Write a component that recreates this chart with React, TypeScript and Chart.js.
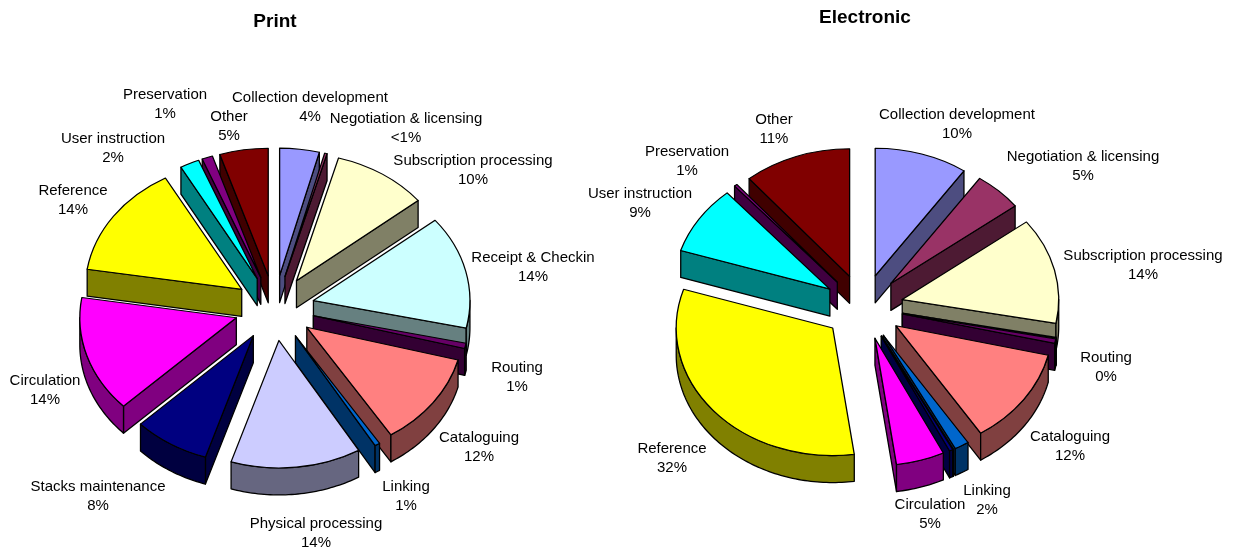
import React, { useEffect, useRef } from "react";
import { Chart, registerables } from "chart.js";

Chart.register(...registerables);

const categories = [
  "Collection development", "Negotiation & licensing", "Subscription processing", "Receipt & Checkin",
  "Routing", "Cataloguing", "Linking", "Physical processing", "Stacks maintenance", "Circulation",
  "Reference", "User instruction", "Preservation", "Other",
];
const sliceColors = [
  "#9999FF", "#993366", "#FFFFCC", "#CCFFFF", "#660066", "#FF8080", "#0066CC",
  "#CCCCFF", "#000080", "#FF00FF", "#FFFF00", "#00FFFF", "#800080", "#800000",
];

const printValues = [4.08, 0.25, 9.83, 14.28, 0.67, 11.83, 0.53, 13.44, 7.86, 14.7, 14.36, 2.0, 1.1, 5.0];
const printPercents = ["4%", "<1%", "10%", "14%", "1%", "12%", "1%", "14%", "8%", "14%", "14%", "2%", "1%", "5%"];
const printLabelAt = [
  [310, 98], [406, 119], [473, 161], [533, 258], [517, 368], [479, 438], [406, 487],
  [316, 524], [98, 487], [45, 381], [73, 191], [113, 139], [165, 95], [229, 117],
];

const electronicValues = [9.6, 5.0, 13.4, 0.15, 0.55, 12.2, 1.5, 0.05, 0.35, 5.0, 32.1, 8.7, 0.3, 11.1];
const electronicPercents = ["10%", "5%", "14%", "", "0%", "12%", "2%", "", "", "5%", "32%", "9%", "1%", "11%"];
const electronicLabelAt = [
  [957, 115], [1083, 157], [1143, 256], null, [1106, 358], [1070, 437], [987, 491],
  null, null, [930, 505], [672, 449], [640, 194], [687, 152], [774, 120],
];

const FONT = '"Liberation Sans", Arial, sans-serif';
const RADIUS = 156.5;
const SQUASH = 0.815;
const DEPTH = 27;
const EXPLODE = 40;
const LINE = 1.3;

function halve(hex: string) {
  const n = parseInt(hex.slice(1), 16);
  const c = (v: number) => Math.round(v / 2);
  return `rgb(${c((n >> 16) & 255)},${c((n >> 8) & 255)},${c(n & 255)})`;
}

const pie3d = {
  id: "pie3d",
  beforeDatasetDraw(chart: any, args: any, opts: any) {
    const ctx = chart.ctx;
    const arcs = [...args.meta.data].map((el: any, i: number) => ({ el, i }));
    const mid = (e: any) => (e.startAngle + e.endAngle) / 2;
    arcs.sort((a, b) => Math.sin(mid(a.el)) - Math.sin(mid(b.el)));
    for (const { el, i } of arcs) {
      const m = mid(el);
      const ox = opts.cx + Math.cos(m) * EXPLODE;
      const oy = opts.cy + Math.sin(m) * EXPLODE * SQUASH;
      const r = el.outerRadius;
      const pt = (a: number, rr: number, d: number): [number, number] => [
        ox + Math.cos(a) * rr,
        oy + Math.sin(a) * rr * SQUASH + d,
      ];
      const wall = halve(sliceColors[i]);
      const shape = (pts: [number, number][]) => {
        ctx.beginPath();
        pts.forEach((p, idx) => (idx ? ctx.lineTo(p[0], p[1]) : ctx.moveTo(p[0], p[1])));
        ctx.closePath();
        ctx.fillStyle = wall;
        ctx.strokeStyle = "#000";
        ctx.lineWidth = LINE;
        ctx.lineJoin = "round";
        ctx.fill();
        ctx.stroke();
      };
      const face = (a: number) =>
        shape([pt(a, 0, 0), pt(a, r, 0), pt(a, r, DEPTH), pt(a, 0, DEPTH)]);
      if (-Math.cos(el.startAngle) > 0) face(el.startAngle);
      if (Math.cos(el.endAngle) > 0) face(el.endAngle);
      const from = Math.max(el.startAngle, 0);
      const to = Math.min(el.endAngle, Math.PI);
      if (to > from) {
        const top: [number, number][] = [];
        const bottom: [number, number][] = [];
        const steps = Math.max(2, Math.ceil((to - from) / 0.02));
        for (let s = 0; s <= steps; s++) {
          const a = from + ((to - from) * s) / steps;
          top.push(pt(a, r, 0));
          bottom.unshift(pt(a, r, DEPTH));
        }
        shape([...top, ...bottom]);
      }
      ctx.save();
      ctx.translate(ox, oy);
      ctx.scale(1, SQUASH);
      ctx.translate(-el.x, -el.y);
      el.draw(ctx);
      ctx.restore();
    }
    return false;
  },
  afterDraw(chart: any, _args: any, opts: any) {
    const ctx = chart.ctx;
    ctx.save();
    ctx.font = `15px ${FONT}`;
    ctx.fillStyle = "#000";
    ctx.textAlign = "center";
    ctx.textBaseline = "middle";
    opts.percents.forEach((pct: string, i: number) => {
      const at = opts.labelAt[i];
      if (!at) return;
      ctx.fillText(categories[i], at[0], at[1]);
      ctx.fillText(pct, at[0], at[1] + 18.7);
    });
    ctx.restore();
  },
};

type PieProps = {
  title: string;
  values: number[];
  percents: string[];
  labelAt: (number[] | null)[];
  cx: number;
  cy: number;
  padLeft: number;
  padRight: number;
  titleTop: number;
};

function Pie({ title, values, percents, labelAt, cx, cy, padLeft, padRight, titleTop }: PieProps) {
  const ref = useRef<HTMLCanvasElement>(null);
  useEffect(() => {
    const chart = new Chart(ref.current as HTMLCanvasElement, {
      type: "pie",
      data: {
        labels: categories,
        datasets: [
          {
            data: values,
            backgroundColor: sliceColors,
            borderColor: "#000",
            borderWidth: LINE,
            borderJoinStyle: "round",
            radius: RADIUS,
          } as any,
        ],
      },
      options: {
        responsive: false,
        animation: false,
        events: [],
        layout: { padding: { left: padLeft, right: padRight, top: 0, bottom: 0 } },
        plugins: {
          legend: { display: false },
          tooltip: { enabled: false },
          title: {
            display: true,
            text: title,
            color: "#000",
            font: { family: FONT, size: 19, weight: "bold" },
            padding: { top: titleTop, bottom: 0 },
          },
          pie3d: { cx, cy, percents, labelAt },
        } as any,
      },
      plugins: [pie3d],
    });
    return () => chart.destroy();
  }, []);
  return (
    <canvas
      ref={ref}
      width={1235}
      height={549}
      style={{ position: "absolute", left: 0, top: 0, width: 1235, height: 549 }}
    />
  );
}

export default function App() {
  return (
    <div style={{ position: "absolute", left: 0, top: 0, width: 1235, height: 549, background: "#fff", overflow: "hidden" }}>
      <Pie title="Print" values={printValues} percents={printPercents} labelAt={printLabelAt}
        cx={274.5} cy={308} padLeft={0} padRight={685} titleTop={10} />
      <Pie title="Electronic" values={electronicValues} percents={electronicPercents} labelAt={electronicLabelAt}
        cx={863.3} cy={307} padLeft={495} padRight={0} titleTop={6} />
    </div>
  );
}
